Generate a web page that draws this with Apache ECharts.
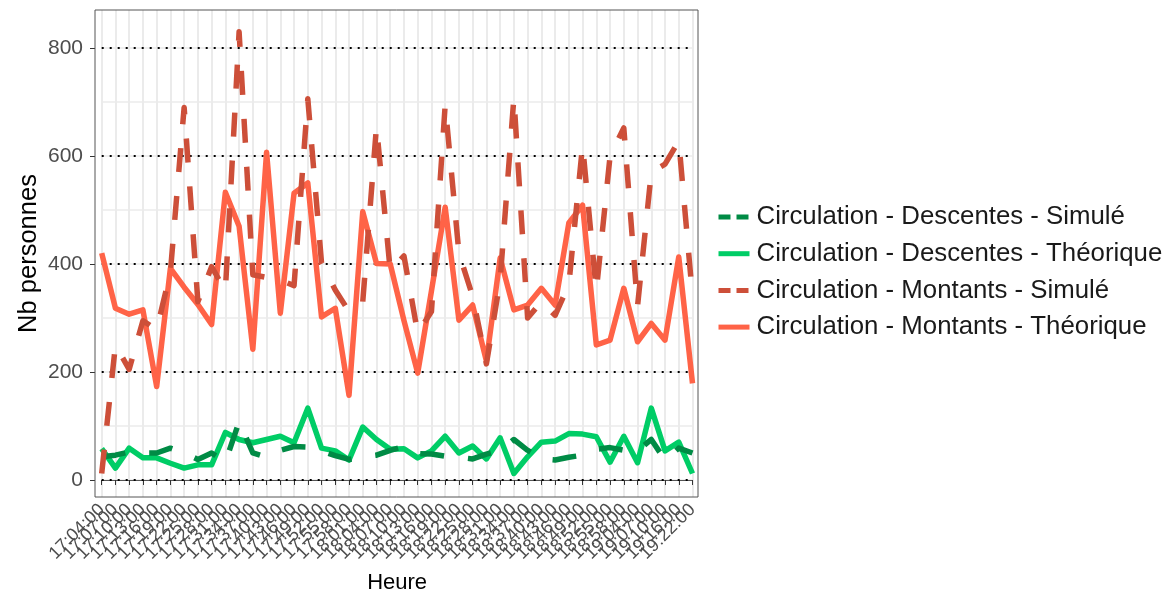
<!DOCTYPE html>
<html>
<head>
<meta charset="utf-8">
<script src="https://cdn.jsdelivr.net/npm/echarts@6/dist/echarts.min.js"></script>
<style>
  html, body { margin: 0; padding: 0; background: #fff; }
  #chart { width: 1169px; height: 594px; }
</style>
</head>
<body>
<div id="chart"></div>
<script>
// categories (heure)
const heures = ['17:04:00','17:07:00','17:10:00','17:13:00','17:16:00','17:19:00','17:22:00','17:25:00',
  '17:28:00','17:31:00','17:34:00','17:37:00','17:40:00','17:43:00','17:46:00','17:49:00','17:52:00',
  '17:55:00','17:58:00','18:01:00','18:04:00','18:07:00','18:10:00','18:13:00','18:16:00','18:19:00',
  '18:22:00','18:25:00','18:28:00','18:31:00','18:34:00','18:37:00','18:40:00','18:43:00','18:46:00',
  '18:49:00','18:52:00','18:55:00','18:58:00','19:04:00','19:07:00','19:10:00','19:16:00','19:22:00'];

const descSimule = [43, 46, 52, 50, 50, 59, 50, 38, 50, 33, 108, 50, 42, 55, 62, 61, 54, 45, 38, 43, 46, 55,
  62, 49, 48, 44, 42, 39, 48, 55, 75, 55, 39, 37, 42, 46, 57, 60, 55, 54, 75, 37, 59, 50];
const descTheo = [58, 22, 59, 41, 41, 31, 22, 28, 28, 88, 75, 69, 75, 81, 69, 133, 59, 54, 37, 98, 75, 57,
  58, 41, 54, 81, 50, 63, 39, 78, 12, 43, 70, 72, 86, 85, 80, 33, 81, 32, 133, 54, 70, 12];
const montSimule = [12, 250, 205, 295, 278, 385, 690, 330, 395, 350, 830, 380, 375, 370, 360, 706, 402, 352,
  312, 330, 655, 388, 415, 272, 312, 695, 420, 340, 215, 370, 708, 300, 330, 305, 362, 620, 350, 600, 652,
  322, 570, 585, 628, 340];
const montTheo = [420, 318, 307, 315, 173, 392, 357, 325, 288, 533, 470, 242, 607, 309, 531, 550, 302, 318,
  157, 497, 401, 400, 295, 198, 350, 505, 296, 324, 220, 411, 315, 324, 355, 324, 476, 509, 250, 259, 355,
  256, 290, 259, 413, 179];

const yTicks = [0, 200, 400, 600, 800];
const yMinor = [0, 100, 200, 300, 400, 500, 600, 700, 800];

const FONT = 'Liberation Sans, Arial, sans-serif';
const DASH = [24, 24];

const chart = echarts.init(document.getElementById('chart'));

function line(name, data, color, dashed) {
  return {
    name: name,
    type: 'line',
    data: data,
    symbol: 'none',
    showSymbol: false,
    lineStyle: { color: color, width: 5.5, type: dashed ? DASH : 'solid', cap: 'butt', join: 'round' },
    itemStyle: { color: color },
    emphasis: { disabled: true },
  };
}

const hideSym = { color: 'transparent', borderColor: 'transparent', borderWidth: 0, opacity: 0 };

chart.setOption({
  animation: false,
  backgroundColor: '#fff',
  textStyle: { fontFamily: FONT },
  grid: { left: 101.7, right: 476.5, top: 10, bottom: 97, containLabel: false, outerBoundsMode: 'none' },
  legend: {
    orient: 'vertical',
    left: 711,
    top: 197,
    itemWidth: 31,
    itemHeight: 14,
    itemGap: 6.7,
    selectedMode: false,
    itemStyle: hideSym,
    textStyle: { fontSize: 25.8, color: '#1a1a1a', fontFamily: FONT, lineHeight: 30, padding: [0, 0, 0, 2] },
    data: [
      { name: 'Circulation - Descentes - Simulé', lineStyle: { type: [12, 6], width: 5 }, itemStyle: hideSym },
      { name: 'Circulation - Descentes - Théorique', lineStyle: { width: 5 }, itemStyle: hideSym },
      { name: 'Circulation - Montants - Simulé', lineStyle: { type: [12, 6], width: 5 }, itemStyle: hideSym },
      { name: 'Circulation - Montants - Théorique', lineStyle: { width: 5 }, itemStyle: hideSym },
    ],
  },
  xAxis: {
    type: 'category',
    data: heures,
    boundaryGap: false,
    name: 'Heure',
    nameLocation: 'middle',
    nameGap: 75,
    nameMoveOverlap: false,
    nameTextStyle: { fontSize: 22, color: '#000', fontFamily: FONT },
    axisLine: { show: true, lineStyle: { color: '#555', width: 1 } },
    axisTick: { show: true, interval: 0, length: 5, lineStyle: { color: '#333', width: 1 } },
    axisLabel: { interval: 0, rotate: 45, fontSize: 18, color: '#4D4D4D', margin: 10, fontFamily: FONT },
    splitLine: { show: true, interval: 0, lineStyle: { color: '#EBEBEB', width: 2 } },
  },
  yAxis: [
    {
      type: 'value',
      min: -31.5,
      max: 870.4,
      position: 'left',
      offset: 6.7,
      z: 1,
      name: 'Nb personnes',
      nameLocation: 'middle',
      nameGap: 53,
      nameMoveOverlap: false,
      nameTextStyle: { fontSize: 25.5, color: '#000', fontFamily: FONT },
      axisLine: { show: false },
      axisTick: { show: true, length: 5, lineStyle: { color: '#333' }, customValues: yTicks },
      axisLabel: { customValues: yTicks, fontSize: 21, color: '#4D4D4D', margin: 12, fontFamily: FONT },
      splitLine: { show: true, lineStyle: { color: '#000', width: 2, type: [2, 6] } },
    },
    {
      type: 'value',
      min: -31.5,
      max: 870.4,
      position: 'left',
      z: 0,
      axisLine: { show: false },
      axisTick: { show: false, customValues: yMinor },
      axisLabel: { show: false },
      splitLine: { show: true, lineStyle: { color: '#EBEBEB', width: 1.5 } },
    },
  ],
  graphic: [{
    type: 'rect',
    z: 100,
    silent: true,
    shape: { x: 95, y: 10, width: 603, height: 487 },
    style: { fill: 'none', stroke: '#555', lineWidth: 1 },
  }],
  series: [
    line('Circulation - Descentes - Théorique', descTheo, '#00CD66', false),
    line('Circulation - Montants - Théorique', montTheo, '#FF6347', false),
    line('Circulation - Descentes - Simulé', descSimule, '#008B45', true),
    line('Circulation - Montants - Simulé', montSimule, '#CD4F39', true),
  ],
});
</script>
</body>
</html>
